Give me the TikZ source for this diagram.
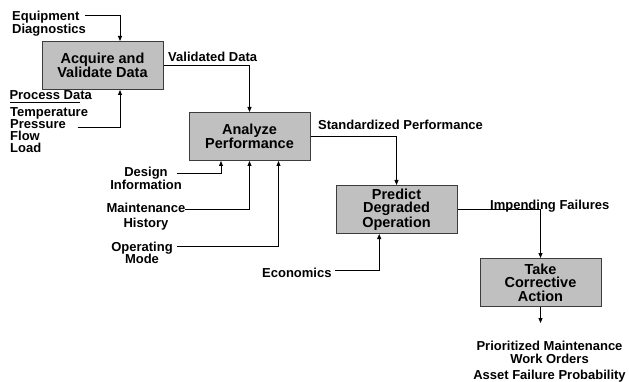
\documentclass[tikz,border=0pt]{standalone}
\usepackage{fontspec}
\setmainfont{Liberation Sans}
\usepackage{tikz}
\usetikzlibrary{
  arrows.meta,
  positioning
}
\definecolor{boxgray}{RGB}{192,192,192}
\definecolor{boxedge}{RGB}{60,60,60}

\begin{document}
\begin{tikzpicture}[
    x=1pt, y=-1pt,
    node distance=23pt and 25pt,
    >={Triangle[length=5pt,width=4pt]},
    stepbox/.style={draw=boxedge, fill=boxgray, line width=1pt, minimum width=121pt, minimum height=48pt, inner sep=0pt, align=center, font=\fontsize{14.5}{13.5}\selectfont\bfseries},
    lbl/.style={inner sep=0pt, font=\fontsize{13}{11.8}\selectfont\bfseries},
    flow/.style={->, line width=1pt},
]
\useasboundingbox (0,0) rectangle (629,382);

% === Process steps ===
\node[stepbox] (acquire) at (102.5,65.5) {Acquire and\\Validate Data};
\node[stepbox, below right=22pt and 25pt of acquire] (analyze) {Analyze\\Performance};
\node[stepbox, below right=24pt and 25pt of analyze] (predict) {Predict\\Degraded\\Operation};
\node[stepbox, below right=24pt and 22pt of predict] (action) {Take\\Corrective\\Action};

% === Step to step ===
\draw[flow] (acquire.east) -| (analyze.north);
\draw[flow] (analyze.east) -| (predict.north);
\draw[flow] (predict.east) -| (action.north);

\node[lbl, anchor=north west] (validated) at (168,51.7) {Validated Data};
\node[lbl, anchor=north west] (standard) at (318,120) {Standardized Performance};
\node[lbl, anchor=north west] (impending) at (490,200) {Impending Failures};

% === Inputs to Acquire ===
\node[lbl, anchor=north west, align=left, font=\fontsize{13}{10.7}\selectfont\bfseries] (equip) at (12,11) {Equipment\\Diagnostics};
\coordinate (equipend) at (85,15.7);
\draw[flow] (equipend) -| ([xshift=17.5pt]acquire.north);

\node[lbl, anchor=north west] (procdata) at (9.3,90) {Process Data};
\draw[line width=0.8pt] (procdata.south west) ++(0.7,3) coordinate (ulstart) -- ++(70,0) coordinate (ulend);
\node[lbl, anchor=north west, align=left] (sensors) at (10,107.7) {Temperature\\Pressure\\Flow\\Load};
\coordinate (sensend) at (77.7,127.3);
\draw[flow] (sensend) -| ([xshift=17.5pt]acquire.south);

% === Inputs to Analyze ===
\node[lbl, anchor=north, align=center, font=\fontsize{13}{11.7}\selectfont\bfseries] (design) at (146,166.7) {Design\\Information};
\coordinate (designend) at (176.7,174);
\draw[flow] (designend) -| ([xshift=-28.5pt]analyze.south);

\node[lbl, anchor=north, align=center, font=\fontsize{13}{15}\selectfont\bfseries] (maint) at (146,203.3) {Maintenance\\History};
\coordinate (maintend) at (185,210);
\draw[flow] (maintend) -| (analyze.south);

\node[lbl, anchor=north, align=center, font=\fontsize{13}{12.3}\selectfont\bfseries] (opmode) at (142,241.7) {Operating\\Mode};
\coordinate (opend) at (176.7,246);
\draw[flow] (opend) -| ([xshift=29pt]analyze.south);

% === Input to Predict ===
\node[lbl, anchor=north west] (econ) at (262,268) {Economics};
\coordinate (econend) at (335,270.7);
\draw[flow] (econend) -| ([xshift=-17.3pt]predict.south);

% === Output ===
\coordinate (outend) at (action.south |- 0,323);
\draw[flow] (action.south) -- (outend);
\node[lbl, anchor=north, align=center, font=\fontsize{13}{12.8}\selectfont\bfseries] (output) at (549.5,340.7) {Prioritized Maintenance\\Work Orders\hspace*{11pt}\\[3.5pt]Asset Failure Probability};

\end{tikzpicture}
\end{document}
